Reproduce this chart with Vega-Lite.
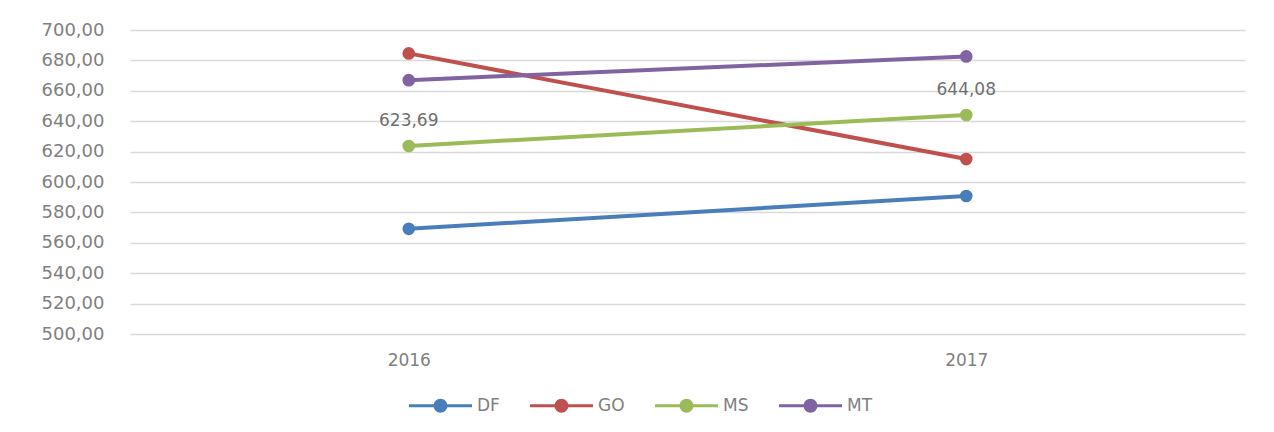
{
  "$schema": "https://vega.github.io/schema/vega-lite/v6.json",
  "autosize": "none",
  "width": 1115,
  "height": 304,
  "padding": {"left": 130, "top": 30, "right": 29, "bottom": 98},
  "background": "white",
  "config": {
    "view": {"stroke": null},
    "font": "DejaVu Sans",
    "locale": {"number": {"decimal": ",", "thousands": ".", "grouping": [3], "currency": ["R$", ""]}}
  },
  "data": {
    "values": [
      {"state": "DF", "year": "2016", "value": 569.2},
      {"state": "DF", "year": "2017", "value": 590.8},
      {"state": "GO", "year": "2016", "value": 684.6},
      {"state": "GO", "year": "2017", "value": 615.1},
      {"state": "MS", "year": "2016", "value": 623.69},
      {"state": "MS", "year": "2017", "value": 644.08},
      {"state": "MT", "year": "2016", "value": 667.0},
      {"state": "MT", "year": "2017", "value": 682.6}
    ]
  },
  "encoding": {
    "x": {
      "field": "year",
      "type": "ordinal",
      "scale": {"type": "point", "padding": 0.5},
      "axis": {"title": null, "labelAngle": 0, "domain": false, "ticks": false, "grid": false, "labelPadding": 18, "labelFontSize": 17, "labelColor": "#808080"}
    },
    "y": {
      "field": "value",
      "type": "quantitative",
      "scale": {"domain": [500, 700], "nice": false, "zero": false},
      "axis": {"title": null, "values": [500, 520, 540, 560, 580, 600, 620, 640, 660, 680, 700], "format": ".2f", "domain": false, "ticks": false, "labelPadding": 26, "labelFontSize": 18, "labelColor": "#808080", "gridColor": "#d9d9d9", "gridWidth": 1.5}
    },
    "color": {
      "field": "state",
      "type": "nominal",
      "scale": {"domain": ["DF", "GO", "MS", "MT"], "range": ["#4a7ebb", "#c0504d", "#9bbb59", "#8064a2"]},
      "legend": {
        "title": null,
        "orient": "none",
        "direction": "horizontal",
        "legendX": 279,
        "legendY": 344,
        "symbolType": "M-1,-0.05L1,-0.05L1,0.05L-1,0.05Z M0.22,0A0.22,0.22,0,1,1,-0.22,0A0.22,0.22,0,1,1,0.22,0Z",
        "symbolSize": 3969,
        "symbolStrokeWidth": 0,
        "labelFontSize": 17,
        "labelColor": "#808080",
        "labelOffset": 5,
        "columnPadding": 30,
        "encode": {"symbols": {"update": {"fill": {"scale": "color", "field": "value"}, "stroke": {"value": "transparent"}, "opacity": {"value": 1}}}}
      }
    }
  },
  "layer": [
    {"mark": {"type": "line", "strokeWidth": 4}},
    {"mark": {"type": "point", "filled": true, "size": 160, "opacity": 1}},
    {
      "transform": [{"filter": "datum.state === 'MS'"}],
      "mark": {"type": "text", "dy": -25, "fontSize": 17, "color": "#707070"},
      "encoding": {"text": {"field": "value", "type": "quantitative", "format": ".2f"}, "color": {"value": "#707070"}}
    }
  ]
}
